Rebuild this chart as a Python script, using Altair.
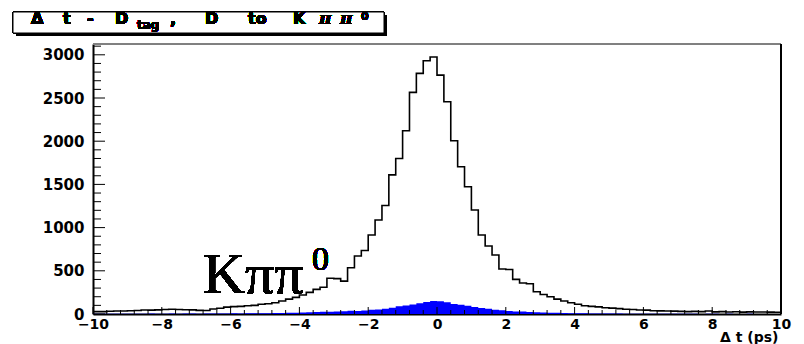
import altair as alt
import pandas as pd

# Delta-t distribution, 100 bins of 0.2 ps from -10 to 10 ps
T_MIN, T_MAX, N_BINS = -10.0, 10.0, 100

# all tagged D candidates (open histogram)
all_counts = [
    27, 27, 32, 35, 35, 38, 40, 46, 45, 48,
    52, 55, 52, 50, 48, 42, 40, 58, 66, 80,
    85, 88, 96, 100, 112, 118, 131, 150, 172, 193,
    220, 250, 285, 310, 413, 410, 380, 536, 671, 735,
    914, 1088, 1255, 1610, 1800, 2121, 2565, 2785, 2931, 2975,
    2765, 2456, 2005, 1704, 1473, 1203, 914, 787, 683, 520,
    515, 401, 358, 350, 258, 225, 200, 172, 150, 131,
    112, 95, 88, 82, 73, 68, 62, 55, 52, 46,
    45, 38, 36, 35, 33, 30, 28, 30, 27, 35,
    25, 27, 24, 26, 22, 25, 23, 24, 22, 20,
]

# D -> K pi pi0 component (filled histogram)
kpipi0_counts = [
    3, 2, 4, 3, 2, 3, 4, 3, 5, 4,
    4, 5, 3, 6, 5, 4, 6, 5, 7, 6,
    8, 7, 9, 8, 10, 9, 12, 12, 14, 15,
    18, 20, 22, 25, 27, 28, 32, 38, 36, 40,
    50, 52, 60, 73, 90, 98, 110, 125, 140, 150,
    148, 135, 115, 108, 96, 80, 70, 62, 48, 44,
    35, 30, 28, 24, 20, 18, 15, 14, 12, 10,
    9, 8, 7, 6, 6, 5, 5, 4, 4, 3,
    3, 2, 3, 2, 2, 3, 2, 2, 1, 2,
    2, 1, 2, 1, 1, 2, 1, 1, 1, 1,
]

x_tick_labels = [-10, -8, -6, -4, -2, 0, 2, 4, 6, 8, 10]
y_tick_labels = [0, 500, 1000, 1500, 2000, 2500, 3000]
Y_MAX = 3125

W, H = 688, 270
step = (T_MAX - T_MIN) / N_BINS
edges = [T_MIN + i * step for i in range(N_BINS + 1)]
hist = pd.DataFrame({
    "t": edges,
    "all": all_counts + [all_counts[-1]],
    "kpp": kpipi0_counts + [kpipi0_counts[-1]],
})

x_scale = alt.Scale(domain=[T_MIN, T_MAX], nice=False, zero=False)
y_scale = alt.Scale(domain=[0, Y_MAX], nice=False)

AXIS_FONT = "DejaVu Sans"

x_axis = alt.Axis(
    values=x_tick_labels, format="d", ticks=False, grid=False,
    labelFont=AXIS_FONT, labelFontWeight="bold", labelFontSize=14,
    labelColor="black", labelPadding=3, labelBaseline="top", labelFlush=False,
    domainColor="black", domainWidth=2,
    title="\u0394 t (ps)", titleFont=AXIS_FONT, titleFontWeight="bold",
    titleFontSize=14, titleColor="black", titleAnchor="end",
    titleAlign="right", titleBaseline="alphabetic", titleX=685, titleY=27,
)
y_axis = alt.Axis(
    values=y_tick_labels, format="d", ticks=False, grid=False,
    labelFont=AXIS_FONT, labelFontWeight="bold", labelFontSize=15,
    labelColor="black", labelPadding=9, domainColor="black", domainWidth=2,
    title=None,
)

base = alt.Chart(hist)

filled = base.mark_area(interpolate="step-after", color="#0000ff").encode(
    x=alt.X("t:Q", scale=x_scale, axis=x_axis),
    y=alt.Y("kpp:Q", scale=y_scale, axis=y_axis),
)
outline = base.mark_line(
    interpolate="step-after", color="black", strokeWidth=1.6
).encode(x=alt.X("t:Q", scale=x_scale), y=alt.Y("all:Q", scale=y_scale))

# inward tick marks
y_major = pd.DataFrame({"v": y_tick_labels})
y_minor = pd.DataFrame({"v": [v for v in range(100, 3200, 100) if v % 500]})
x_major = pd.DataFrame({"v": x_tick_labels})
x_minor = pd.DataFrame({"v": [round(T_MIN + 0.4 * i, 1) for i in range(51)
                              if round(T_MIN + 0.4 * i, 1) % 2]})

def y_ticks(df, length):
    return alt.Chart(df).mark_rule(color="black", strokeWidth=1).encode(
        y=alt.Y("v:Q", scale=y_scale), x=alt.value(0), x2=alt.value(length))

def x_ticks(df, length):
    return alt.Chart(df).mark_rule(color="black", strokeWidth=1).encode(
        x=alt.X("v:Q", scale=x_scale), y=alt.value(H), y2=alt.value(H - length))

def rule(x, x2, y, y2, color, width):
    return alt.Chart(hist).mark_rule(color=color, strokeWidth=width).encode(
        x=alt.value(x), x2=alt.value(x2), y=alt.value(y), y2=alt.value(y2))

def text(s, x, y, size, font="Liberation Sans", weight="bold", style="normal"):
    return alt.Chart(hist).mark_text(
        text=s, align="left", baseline="alphabetic", font=font,
        fontSize=size, fontWeight=weight, fontStyle=style, color="black",
    ).encode(x=alt.value(x), y=alt.value(y))

frame = [
    rule(0, W, 0, 0, "#808080", 1),
    rule(W, W, 0, H, "black", 2),
]

# histogram title in a box with a drop shadow
box_shadow = alt.Chart(hist).mark_rect(color="black").encode(
    x=alt.value(-77), x2=alt.value(294), y=alt.value(-29), y2=alt.value(-8))
box = alt.Chart(hist).mark_rect(fill="white", stroke="black", strokeWidth=1).encode(
    x=alt.value(-80), x2=alt.value(291), y=alt.value(-32), y2=alt.value(-11))

TF = "DejaVu Sans"
TS = 16
TY = -20
OX = -93  # title glyph positions are given from the left edge of the page
title_parts = [
    text("\u0394", OX + 31, TY, TS, font=TF),
    text("t", OX + 63, TY, TS, font=TF),
    text("-", OX + 87, TY, TS, font=TF),
    text("D", OX + 115, TY, TS, font=TF),
    text("tag", OX + 137, TY + 5, 12, font=TF),
    text(",", OX + 170, TY + 1, TS, font=TF),
    text("D", OX + 205, TY, TS, font=TF),
    text("to", OX + 248, TY, TS, font=TF),
    text("K", OX + 293, TY, TS, font=TF),
    text("\u03c0", OX + 319, TY, 17, font="DejaVu Serif", style="italic"),
    text("\u03c0", OX + 340, TY, 17, font="DejaVu Serif", style="italic"),
    text("0", OX + 361, TY - 4, 11, font=TF),
]

big_label = [
    text("K\u03c0\u03c0", 110, 249, 58, font="Liberation Serif", weight="normal"),
    text("0", 219, 226, 34, font="Liberation Serif", weight="normal"),
]

chart = alt.layer(
    filled, outline,
    y_ticks(y_major, 12), y_ticks(y_minor, 8),
    x_ticks(x_major, 7), x_ticks(x_minor, 4),
    *frame, box_shadow, box, *title_parts, *big_label,
).properties(
    width=W, height=H,
    autosize=alt.AutoSizeParams(type="none"),
    padding={"left": 93, "top": 44, "right": 23, "bottom": 30},
    background="white",
).configure_view(stroke=None)

chart.save("out.html", embed_options={"renderer": "svg", "actions": False})
